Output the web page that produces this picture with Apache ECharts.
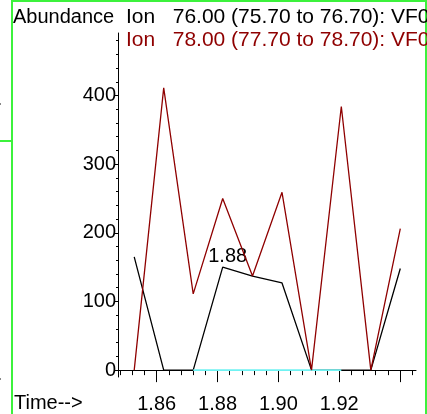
<!DOCTYPE html>
<html>
<head>
<meta charset="utf-8">
<script src="https://cdn.jsdelivr.net/npm/echarts@6/dist/echarts.min.js"></script>
<style>
html,body{margin:0;padding:0;background:#fff;}
#c{width:427px;height:414px;}
</style>
</head>
<body>
<div id="c"></div>
<script>
// Scan times (minutes)
var times = [1.8526, 1.8623, 1.8720, 1.8817, 1.8915, 1.9012, 1.9109, 1.9207, 1.9304, 1.9401];
// Ion 76.00 abundance
var ion76 = [165, 0, 0, 150, 137, 127, 0, 0, 0, 148];
// Ion 78.00 abundance
var ion78 = [0, 411, 111, 250, 137, 259, 0, 384, 0, 206];
// Integration baseline (cyan), from scan 2 to scan 7
var baseTimes = [1.8720, 1.9207];
var baseVals = [0, 0];
// Peak label index
var peakIndex = 3;
// Tick values / labels
var xMajorTicks = [1.86, 1.88, 1.90, 1.92, 1.94];
var xLabelTicks = [1.86, 1.88, 1.90, 1.92];
var xMinorTicks = [1.848,1.852,1.856,1.860,1.864,1.868,1.872,1.876,1.880,1.884,1.888,1.892,1.896,1.900,1.904,1.908,1.912,1.916,1.920,1.924,1.928,1.932,1.936,1.940,1.944];
var yMajorTicks = [0, 100, 200, 300, 400];
var yMinorTicks = [0,20,40,60,80,100,120,140,160,180,200,220,240,260,280,300,320,340,360,380,400,420,440,460,480];
var legend76 = 'Ion   76.00 (75.70 to 76.70): VF0';
var legend78 = 'Ion   78.00 (77.70 to 78.70): VF0';

function pairs(xs, ys){ return xs.map(function(x,i){ return [x, ys[i]]; }); }

var FONT = '"Liberation Sans", Arial, sans-serif';
var XMIN = 1.84727, XMAX = 1.94526, YMIN = -10, YMAX = 491;

var chart = echarts.init(document.getElementById('c'), null, {renderer:'canvas'});
var d76 = pairs(times, ion76).map(function(p, i){
  if (i === peakIndex) {
    return {value: p, label: {show: true, position: 'top', distance: 1, offset: [5, 0],
      formatter: function(pp){ return pp.value[0].toFixed(2); },
      color: '#000', fontSize: 20, fontFamily: FONT}};
  }
  return p;
});

chart.setOption({
  animation: false,
  backgroundColor: '#fff',
  grid: {left: 118, top: 33, right: 11, bottom: 34, containLabel: false},
  xAxis: [
    {type: 'value', position: 'bottom', min: XMIN, max: XMAX,
     axisLine: {show: true, lineStyle: {color: '#000', width: 1}},
     axisTick: {show: true, length: 12, inside: false, customValues: xMajorTicks, lineStyle: {color: '#000', width: 1}},
     axisLabel: {show: true, customValues: xLabelTicks, margin: 17, color: '#000', fontSize: 20, fontFamily: FONT,
       formatter: function(v){ return v.toFixed(2); }},
     splitLine: {show: false}},
    {type: 'value', position: 'bottom', min: XMIN, max: XMAX,
     axisLine: {show: false},
     axisTick: {show: true, length: 5, inside: false, customValues: xMinorTicks, lineStyle: {color: '#000', width: 1}},
     axisLabel: {show: false},
     splitLine: {show: false}}
  ],
  yAxis: [
    {type: 'value', position: 'left', min: YMIN, max: YMAX,
     axisLine: {show: true, lineStyle: {color: '#000', width: 1}},
     axisTick: {show: true, length: 4, inside: false, customValues: yMajorTicks, lineStyle: {color: '#000', width: 1}},
     axisLabel: {show: true, customValues: yMajorTicks, margin: 2, color: '#000', fontSize: 20, fontFamily: FONT},
     splitLine: {show: false}},
    {type: 'value', position: 'left', min: YMIN, max: YMAX,
     axisLine: {show: false},
     axisTick: {show: true, length: 2, inside: false, customValues: yMinorTicks, lineStyle: {color: '#000', width: 1}},
     axisLabel: {show: false},
     splitLine: {show: false}}
  ],
  series: [
    {type: 'line', name: 'Ion 76', data: d76, xAxisIndex: 0, yAxisIndex: 0,
     showSymbol: true, symbol: 'circle', symbolSize: 0, lineStyle: {color: '#000', width: 1.3},
     itemStyle: {color: '#000'}, label: {show: false}, z: 2},
    {type: 'line', name: 'Baseline', data: pairs(baseTimes, baseVals), xAxisIndex: 0, yAxisIndex: 0,
     symbol: 'none', lineStyle: {color: '#6ff2f2', width: 1.8}, z: 3},
    {type: 'line', name: 'Ion 78', data: pairs(times, ion78), xAxisIndex: 0, yAxisIndex: 0,
     symbol: 'none', lineStyle: {color: '#8f0000', width: 1.3}, z: 4}
  ],
  graphic: [
    {type: 'rect', shape: {x: 11, y: 0, width: 2, height: 414}, style: {fill: '#3cf23c'}, silent: true},
    {type: 'rect', shape: {x: 11, y: 0, width: 416, height: 2}, style: {fill: '#3cf23c'}, silent: true},
    {type: 'rect', shape: {x: 425, y: 0, width: 2, height: 414}, style: {fill: '#3cf23c'}, silent: true},
    {type: 'rect', shape: {x: 0, y: 140, width: 12, height: 2}, style: {fill: '#3cf23c'}, silent: true},
    {type: 'rect', shape: {x: 0, y: 103, width: 1, height: 2}, style: {fill: '#888'}, silent: true},
    {type: 'rect', shape: {x: 0, y: 378, width: 1, height: 2}, style: {fill: '#888'}, silent: true},
    {type: 'text', left: 13, top: 7, style: {text: 'Abundance', fill: '#000', font: '20px ' + FONT}},
    {type: 'text', left: 126, top: 7, style: {text: legend76, fill: '#000', font: '21px ' + FONT}},
    {type: 'text', left: 126, top: 30, style: {text: legend78, fill: '#8f0000', font: '21px ' + FONT}},
    {type: 'text', left: 14, top: 393, style: {text: 'Time-->', fill: '#000', font: '20px ' + FONT}}
  ]
});
</script>
</body>
</html>
